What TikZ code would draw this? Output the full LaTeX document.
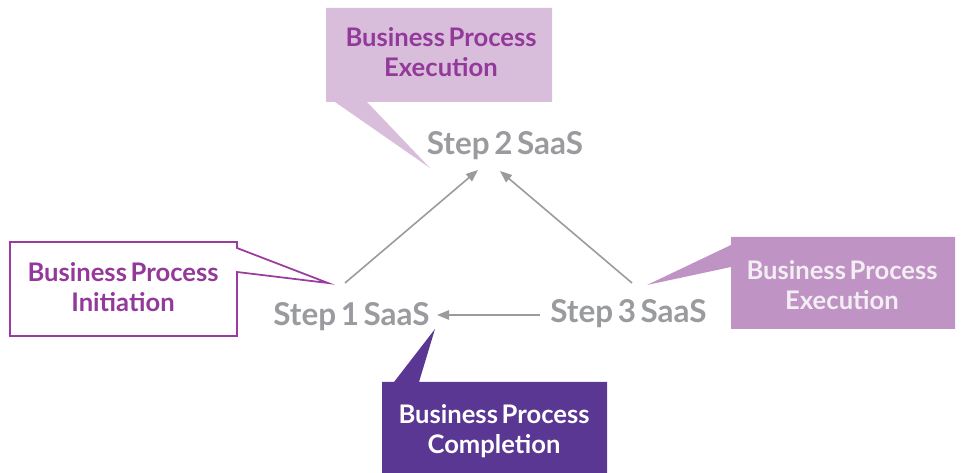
\documentclass[tikz,border=0pt]{standalone}
\usepackage{fontspec}
\setmainfont{Lato}[WordSpace=0.6]
\usetikzlibrary{arrows.meta}
\definecolor{stepgray}{HTML}{9A9B9F}
\definecolor{topfill}{HTML}{D9BEDC}
\definecolor{toptext}{HTML}{93399A}
\definecolor{leftline}{HTML}{9B3A9F}
\definecolor{rightfill}{HTML}{C093C5}
\definecolor{righttext}{HTML}{F2EEF3}
\definecolor{botfill}{HTML}{5B3794}
\begin{document}
\begin{tikzpicture}[x=0.75pt,y=-0.75pt,
  steptext/.style={text=stepgray,font=\fontsize{23.6}{27}\selectfont\bfseries,inner sep=0pt},
  calltext/.style={align=center,font=\fontsize{19.2}{22.5}\selectfont\bfseries,inner sep=0pt},
  flow/.style={draw=stepgray,line width=1.2pt,-{Triangle[length=9pt,width=7pt]}}
]
\useasboundingbox (0,0) rectangle (961,473);

% step nodes
\node[steptext] (s1) at (351.5,317) {Step 1 SaaS};
\node[steptext] (s2) at (505,146) {Step 2 SaaS};
\node[steptext] (s3) at (628.5,314) {Step 3 SaaS};

% connector end points beside the step labels
\coordinate (s1up) at (345,283);
\coordinate (s3up) at (632,283);
\coordinate (s2l) at (478,170);
\coordinate (s2r) at (500,171);
\coordinate (s3w) at (540,315);
\coordinate (s1e) at (437,315);
\draw[flow] (s1up) -- (s2l);
\draw[flow] (s3up) -- (s2r);
\draw[flow] (s3w) -- (s1e);

% top callout
\fill[topfill] (326,8) -- (552,8) -- (552,102) -- (367,102) -- (430,168) -- (335,102) -- (326,102) -- cycle;
\node[calltext,text=toptext] (c2) at (441,52) {Business Process\\Execution};

% left callout
\draw[leftline,line width=1.3pt,fill=white,line join=miter]
  (10,242) -- (237,242) -- (237,248) -- (328,283) -- (237,272) -- (237,336) -- (10,336) -- cycle;
\node[calltext,text=toptext] (c1) at (123,287) {Business Process\\Initiation};

% right callout
\fill[rightfill] (731,237) -- (955,237) -- (955,329) -- (731,329) -- (731,267) -- (647,285) -- (731,245) -- cycle;
\node[calltext,text=righttext] (c3) at (842,285.5) {Business Process\\Execution};

% bottom callout
\fill[botfill] (382,382) -- (394,382) -- (435,329) -- (419,382) -- (607,382) -- (607,473) -- (382,473) -- cycle;
\node[calltext,text=white] (c4) at (494,431) {Business Process\\Completion};
\end{tikzpicture}
\end{document}
